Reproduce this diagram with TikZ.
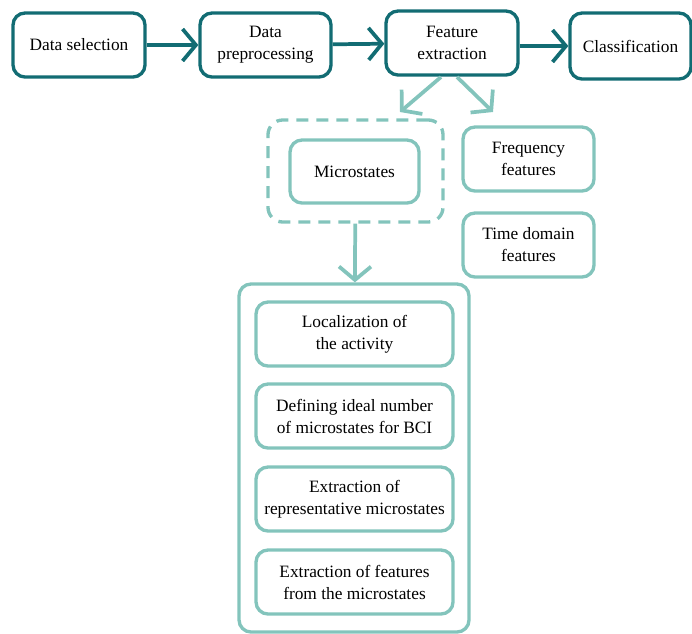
\documentclass[tikz,border=0pt]{standalone}
\usepackage{fontspec}
\setmainfont{Liberation Serif}
\usetikzlibrary{arrows.meta}

\definecolor{darkteal}{RGB}{18,108,115}
\definecolor{lightteal}{RGB}{131,196,188}

\tikzset{every picture/.style={line width=0.75pt}}
\tikzset{
  stagebox/.style={draw=darkteal, line width=2.5pt, rounded corners=9pt, align=center,
    minimum width=99pt, minimum height=48pt, inner sep=0.75pt,
    font=\fontsize{13}{16.5}\selectfont},
  subbox/.style={stagebox, draw=lightteal},
  stagearrow/.style={draw=darkteal, line width=2.8pt, -{Straight Barb[length=10pt,width=24pt,line width=2.8pt]}},
  subarrow/.style={stagearrow, draw=lightteal}
}

\begin{document}
\begin{tikzpicture}[x=0.75pt,y=0.75pt,yscale=-1,xscale=1]
\useasboundingbox (0,0) rectangle (692,633); %set diagram size 692 x 633

%Main stages 
\node [stagebox] (dsel) at (79,45) {Data selection};
\node [stagebox, minimum width=98.25pt] (prep) at (265.5,45) {Data\\preprocessing};
\node [stagebox] (feat) at (452,43) {Feature\\extraction};
\node [stagebox, minimum width=90.75pt, minimum height=49.5pt] (clas) at (630.5,46) {Classification};

%Arrows between stages 
\draw [stagearrow] (dsel) -- (prep);
\draw [stagearrow] (prep) -- (feat);
\draw [stagearrow] (feat.east |- clas) -- (clas);

%Feature groups 
\node [draw=lightteal, line width=2.5pt, dash pattern=on 9pt off 6pt, rounded corners=11pt,
  minimum width=131.25pt, minimum height=76.5pt] (msgrp) at (355.5,171) {};
\node [subbox, minimum width=96.75pt, minimum height=47.25pt] (micro) at (354.5,171.5) {Microstates};
\node [subbox, minimum width=98.25pt] (freq) at (528.5,159) {Frequency\\features};
\node [subbox, minimum width=98.25pt] (time) at (528.5,245) {Time domain\\features};

%Arrows from feature extraction 
\coordinate (fl0) at (441,77);
\coordinate (fl1) at (400,112);
\coordinate (fr0) at (457,77);
\coordinate (fr1) at (493,112);
\draw [subarrow] (fl0) -- (fl1);
\draw [subarrow] (fr0) -- (fr1);

%Microstate steps 
\node [subbox, minimum width=172.5pt, minimum height=261pt] (steps) at (354,458) {};
\node [subbox, minimum width=147.75pt] (loc) at (354.5,334) {Localization of\\the activity};
\node [subbox, minimum width=147.75pt] (num) at (354.5,416) {Defining ideal number\\of microstates for BCI};
\node [subbox, minimum width=147.75pt] (repr) at (354.5,499) {Extraction of\\representative microstates};
\node [subbox, minimum width=147.75pt] (ftr) at (354.5,582) {Extraction of features\\from the microstates};

\draw [subarrow] (msgrp) -- (steps);

\end{tikzpicture}
\end{document}
